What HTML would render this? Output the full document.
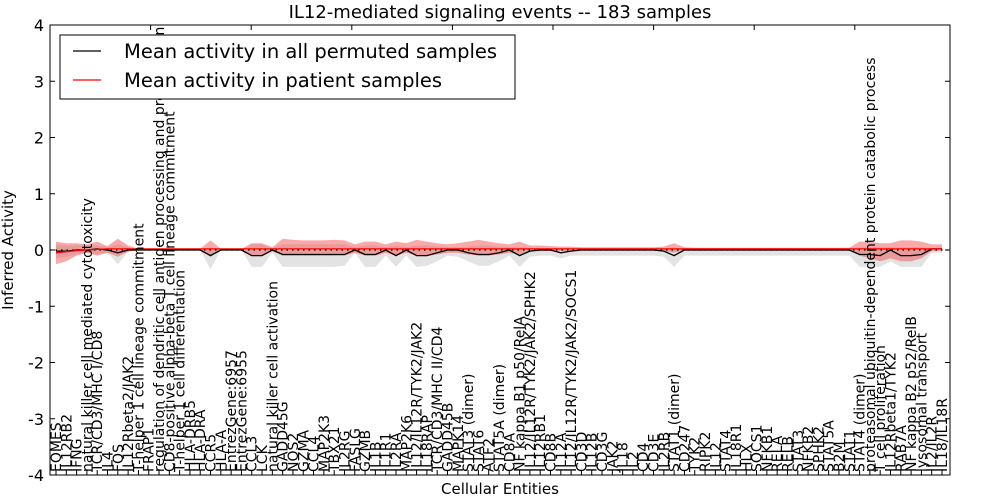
<!DOCTYPE html>
<html><head><meta charset="utf-8"><style>
body{margin:0;background:#fff;}
svg{display:block;font-family:"DejaVu Sans","Liberation Sans",sans-serif;}
</style></head><body>
<svg id="chart" width="1000" height="500" xmlns="http://www.w3.org/2000/svg">
<text x="500" y="18" text-anchor="middle" font-size="18">IL12-mediated signaling events -- 183 samples</text>
<text transform="translate(13,250) rotate(-90)" text-anchor="middle" font-size="15">Inferred Activity</text>
<text x="500" y="494" text-anchor="middle" font-size="15">Cellular Entities</text>
<g id="plot"></g>
<g id="xlabels"></g>
<rect x="50" y="25" width="900" height="450" fill="none" stroke="#000" stroke-width="1"/>
<g>
<rect x="60" y="35" width="455" height="64" fill="#fff" stroke="#000" stroke-width="1"/>
<line x1="73" y1="51" x2="101" y2="51" stroke="#000" stroke-width="1.2"/>
<text x="124" y="58" font-size="19.5">Mean activity in all permuted samples</text>
<line x1="73" y1="80" x2="101" y2="80" stroke="#f00" stroke-width="1.2"/>
<text x="124" y="87" font-size="19.5">Mean activity in patient samples</text>
</g>
</svg>
<script>
const categories = ["EOMES","IL12RB2","IFNG","natural killer cell mediated cytotoxicity","TCR/CD3/MHC I/CD8","IL4","FOS","IL12Rbeta2/JAK2","T-helper 1 cell lineage commitment","FRAP1","regulation of dendritic cell antigen processing and presentation","CD8-positive alpha-beta T cell lineage commitment","T-helper 1 cell differentiation","HLA-DRB5","HLA-DRA","CCR5","HLA-A","EntrezGene:6957","EntrezGene:6955","CCL3","LCK","natural killer cell activation","GADD45G","NOS2","GZMA","CCL4","MAP2K3","TBX21","IL2RG","FASLG","GZMB","IL1B","IL1R1","IL2RA","MAP2K6","IL12/IL12R/TYK2/JAK2","IL18RAP","TCR/CD3/MHC II/CD4","GADD45B","MAPK14","STAT3 (dimer)","STAT6","ATF2","STAT5A (dimer)","CD8A","NF kappa B1 p50/RelA","IL12/IL12R/TYK2/JAK2/SPHK2","IL12RB1","CD8B","IL12A","IL12/IL12R/TYK2/JAK2/SOCS1","CD3D","IL12B","CD3G","JAK2","IL18","IL2","CD4","CD3E","IL2RB","STAT1 (dimer)","CD247","TYK2","RIPK2","IL12","STAT4","IL18R1","HLX","SOCS1","NFKB1","RELA","RELB","STAT3","NFKB2","SPHK2","STAT5A","B2M","STAT1","STAT4 (dimer)","proteasomal ubiquitin-dependent protein catabolic process","T cell proliferation","IL12Rbeta1/TYK2","RAB7A","NF kappa B2 p52/RelB","lysosomal transport","IL2/IL2R","IL18/IL18R"];
const permMean = [-0.02,-0.02,0,0,0.02,0,-0.05,0,0,0,0,0,0,0,0,-0.1,0,0,0,-0.1,-0.1,0,-0.08,-0.08,-0.08,-0.08,-0.08,-0.08,-0.08,0,-0.08,-0.08,0,-0.1,0,-0.1,-0.1,-0.05,0,0,-0.05,-0.08,-0.08,-0.05,0,-0.1,-0.02,0,0,-0.05,-0.02,0,0,0,0,0,0,0,0,-0.02,-0.1,0,0,0,0,0,0,0,0,0,0,0,0,0,0,0,0,0,-0.08,-0.08,-0.1,0,-0.1,-0.1,-0.08,0.02,0.02];
const patMean = [-0.05,-0.03,-0.01,0,0.01,0.02,0.02,0.02,0.02,0.02,0.02,0.02,0.02,0.02,0.02,0.02,0.02,0.02,0.02,0.02,0.02,0.02,0.02,0.02,0.02,0.02,0.02,0.02,0.02,0.02,0.02,0.02,0.02,0.02,0.02,0.02,0.02,0.02,0.02,0.02,0.02,0.02,0.02,0.02,0.02,0.02,0.02,0.02,0.02,0.02,0.02,0.02,0.02,0.02,0.02,0.02,0.02,0.02,0.02,0.02,0.02,0.02,0.02,0.02,0.02,0.02,0.02,0.02,0.02,0.02,0.02,0.02,0.02,0.02,0.02,0.02,0.02,0.02,0.02,0.02,0.02,0.02,0.02,0.02,0.02,0.02,0.02];
const patHi = [0.15,0.12,0.12,0.1,0.15,0.07,0.2,0.08,0.02,0.02,0.02,0.02,0.02,0.02,0.02,0.17,0.02,0.02,0.02,0.12,0.12,0.05,0.2,0.18,0.17,0.17,0.17,0.18,0.17,0.1,0.15,0.15,0.1,0.15,0.12,0.18,0.15,0.12,0.1,0.12,0.15,0.18,0.15,0.12,0.1,0.15,0.08,0.08,0.07,0.06,0.06,0.05,0.05,0.05,0.05,0.05,0.05,0.05,0.05,0.06,0.12,0.05,0.04,0.04,0.04,0.04,0.04,0.04,0.04,0.04,0.04,0.04,0.04,0.04,0.04,0.04,0.04,0.04,0.15,0.15,0.12,0.12,0.17,0.17,0.15,0.1,0.1];
const patLo = [-0.25,-0.2,-0.1,-0.05,-0.1,-0.05,-0.12,-0.03,0,0,0,0,0,0,0,-0.12,0,0,0,-0.1,-0.1,-0.02,-0.1,-0.1,-0.1,-0.1,-0.1,-0.1,-0.1,-0.05,-0.1,-0.1,-0.05,-0.1,-0.05,-0.1,-0.1,-0.08,-0.05,-0.05,-0.08,-0.1,-0.1,-0.08,-0.05,-0.08,-0.03,-0.02,-0.02,-0.02,-0.02,-0.01,-0.01,-0.01,-0.01,-0.01,-0.01,-0.01,-0.01,-0.02,-0.05,-0.01,-0.01,-0.01,-0.01,-0.01,-0.01,-0.01,-0.01,-0.01,-0.01,-0.01,-0.01,-0.01,-0.01,-0.01,-0.01,-0.01,-0.1,-0.15,-0.2,-0.15,-0.2,-0.2,-0.15,-0.02,-0.02];
const permHi = [0.1,0.08,0.08,0.08,0.08,0.05,0.1,0.05,0,0,0,0,0,0,0,0.05,0,0,0,0.1,0.1,0.03,0.1,0.1,0.1,0.1,0.1,0.1,0.1,0.05,0.08,0.08,0.05,0.08,0.05,0.08,0.08,0.06,0.05,0.05,0.06,0.08,0.08,0.06,0.05,0.05,0.04,0.03,0.03,0.03,0.03,0.03,0.03,0.03,0.03,0.03,0.03,0.03,0.03,0.03,0.04,0.03,0.03,0.03,0.03,0.03,0.03,0.03,0.03,0.03,0.03,0.03,0.03,0.03,0.03,0.03,0.03,0.03,0.05,0.05,0.05,0.05,0.05,0.05,0.05,0.03,0.03];
const permLo = [-0.15,-0.12,-0.08,-0.05,-0.08,-0.05,-0.25,-0.03,0,0,0,0,0,0,0,-0.34,0,0,0,-0.3,-0.3,-0.05,-0.3,-0.3,-0.3,-0.3,-0.3,-0.3,-0.28,-0.05,-0.3,-0.3,-0.1,-0.3,-0.1,-0.3,-0.28,-0.2,-0.1,-0.12,-0.2,-0.28,-0.28,-0.2,-0.1,-0.3,-0.12,-0.1,-0.1,-0.15,-0.1,-0.1,-0.1,-0.1,-0.1,-0.1,-0.1,-0.1,-0.1,-0.12,-0.3,-0.1,-0.1,-0.1,-0.1,-0.1,-0.1,-0.1,-0.1,-0.1,-0.1,-0.1,-0.1,-0.1,-0.1,-0.1,-0.1,-0.1,-0.3,-0.3,-0.3,-0.2,-0.3,-0.3,-0.3,-0.05,-0.05];
const yTicks = [-4,-3,-2,-1,0,1,2,3,4];
const topTicks = [0,10,20,30,40,50,60,70,80];

const NS = "http://www.w3.org/2000/svg";
function xPos(i){ return 56 + i * (886 / (categories.length - 1)); }
function yPos(v){ return 250 - v * 56.25; }
function mk(tag, attrs, parent){ const e = document.createElementNS(NS, tag); for (const k in attrs) e.setAttribute(k, attrs[k]); parent.appendChild(e); return e; }
const plot = document.getElementById('plot');
const xl = document.getElementById('xlabels');

function band(lo, hi, fill, op, name){
  let d = "";
  hi.forEach((v,i)=>{ d += (i?"L":"M") + xPos(i).toFixed(1) + "," + yPos(v).toFixed(1); });
  for (let i = lo.length-1; i >= 0; i--) d += "L" + xPos(i).toFixed(1) + "," + yPos(lo[i]).toFixed(1);
  const p = mk('path', {d: d + "Z", fill: fill, 'fill-opacity': op, stroke: 'none'}, plot);
  
  
}
function line(vals, color, name){
  let d = "";
  vals.forEach((v,i)=>{ d += (i?"L":"M") + xPos(i).toFixed(1) + "," + yPos(v).toFixed(1); });
  const p = mk('path', {d: d, fill: 'none', stroke: color, 'stroke-width': 1.3}, plot);
  
  
}
band(permLo, permHi, '#d0d0d0', 0.6, 'permuted-range-band');
band(patLo, patHi, '#f04040', 0.45, 'patient-range-band');
const zl = mk('line', {x1: 50, x2: 950, y1: yPos(0), y2: yPos(0), stroke: '#000', 'stroke-dasharray': '1.5,4', 'stroke-width': 1.2}, plot);


line(permMean, '#000', 'permuted-mean-line');
line(patMean, '#f00', 'patient-mean-line');

yTicks.forEach(t=>{
  const y = yPos(t);
  const a = mk('line', {x1: 50, x2: 55, y1: y, y2: y, stroke: '#000'}, plot);
  
  
  const b = mk('line', {x1: 945, x2: 950, y1: y, y2: y, stroke: '#000'}, plot);
  
  
  const tx = mk('text', {x: 44, y: y + 6, 'text-anchor': 'end', 'font-size': 16}, plot);
  tx.textContent = t;
  
  
});
topTicks.forEach(t=>{
  const x = 50 + t * 10.06;
  const a = mk('line', {x1: x, x2: x, y1: 25, y2: 30, stroke: '#000'}, plot);
  
  
});
categories.forEach((c,i)=>{
  const x = xPos(i);
  const a = mk('line', {x1: x, x2: x, y1: 470, y2: 475, stroke: '#000'}, plot);
  
  
  const t = mk('text', {transform: 'translate(' + (x + 5).toFixed(1) + ',472) rotate(-90)', 'font-size': 14}, xl);
  t.textContent = c;
  
  
});
</script>
</body></html>
